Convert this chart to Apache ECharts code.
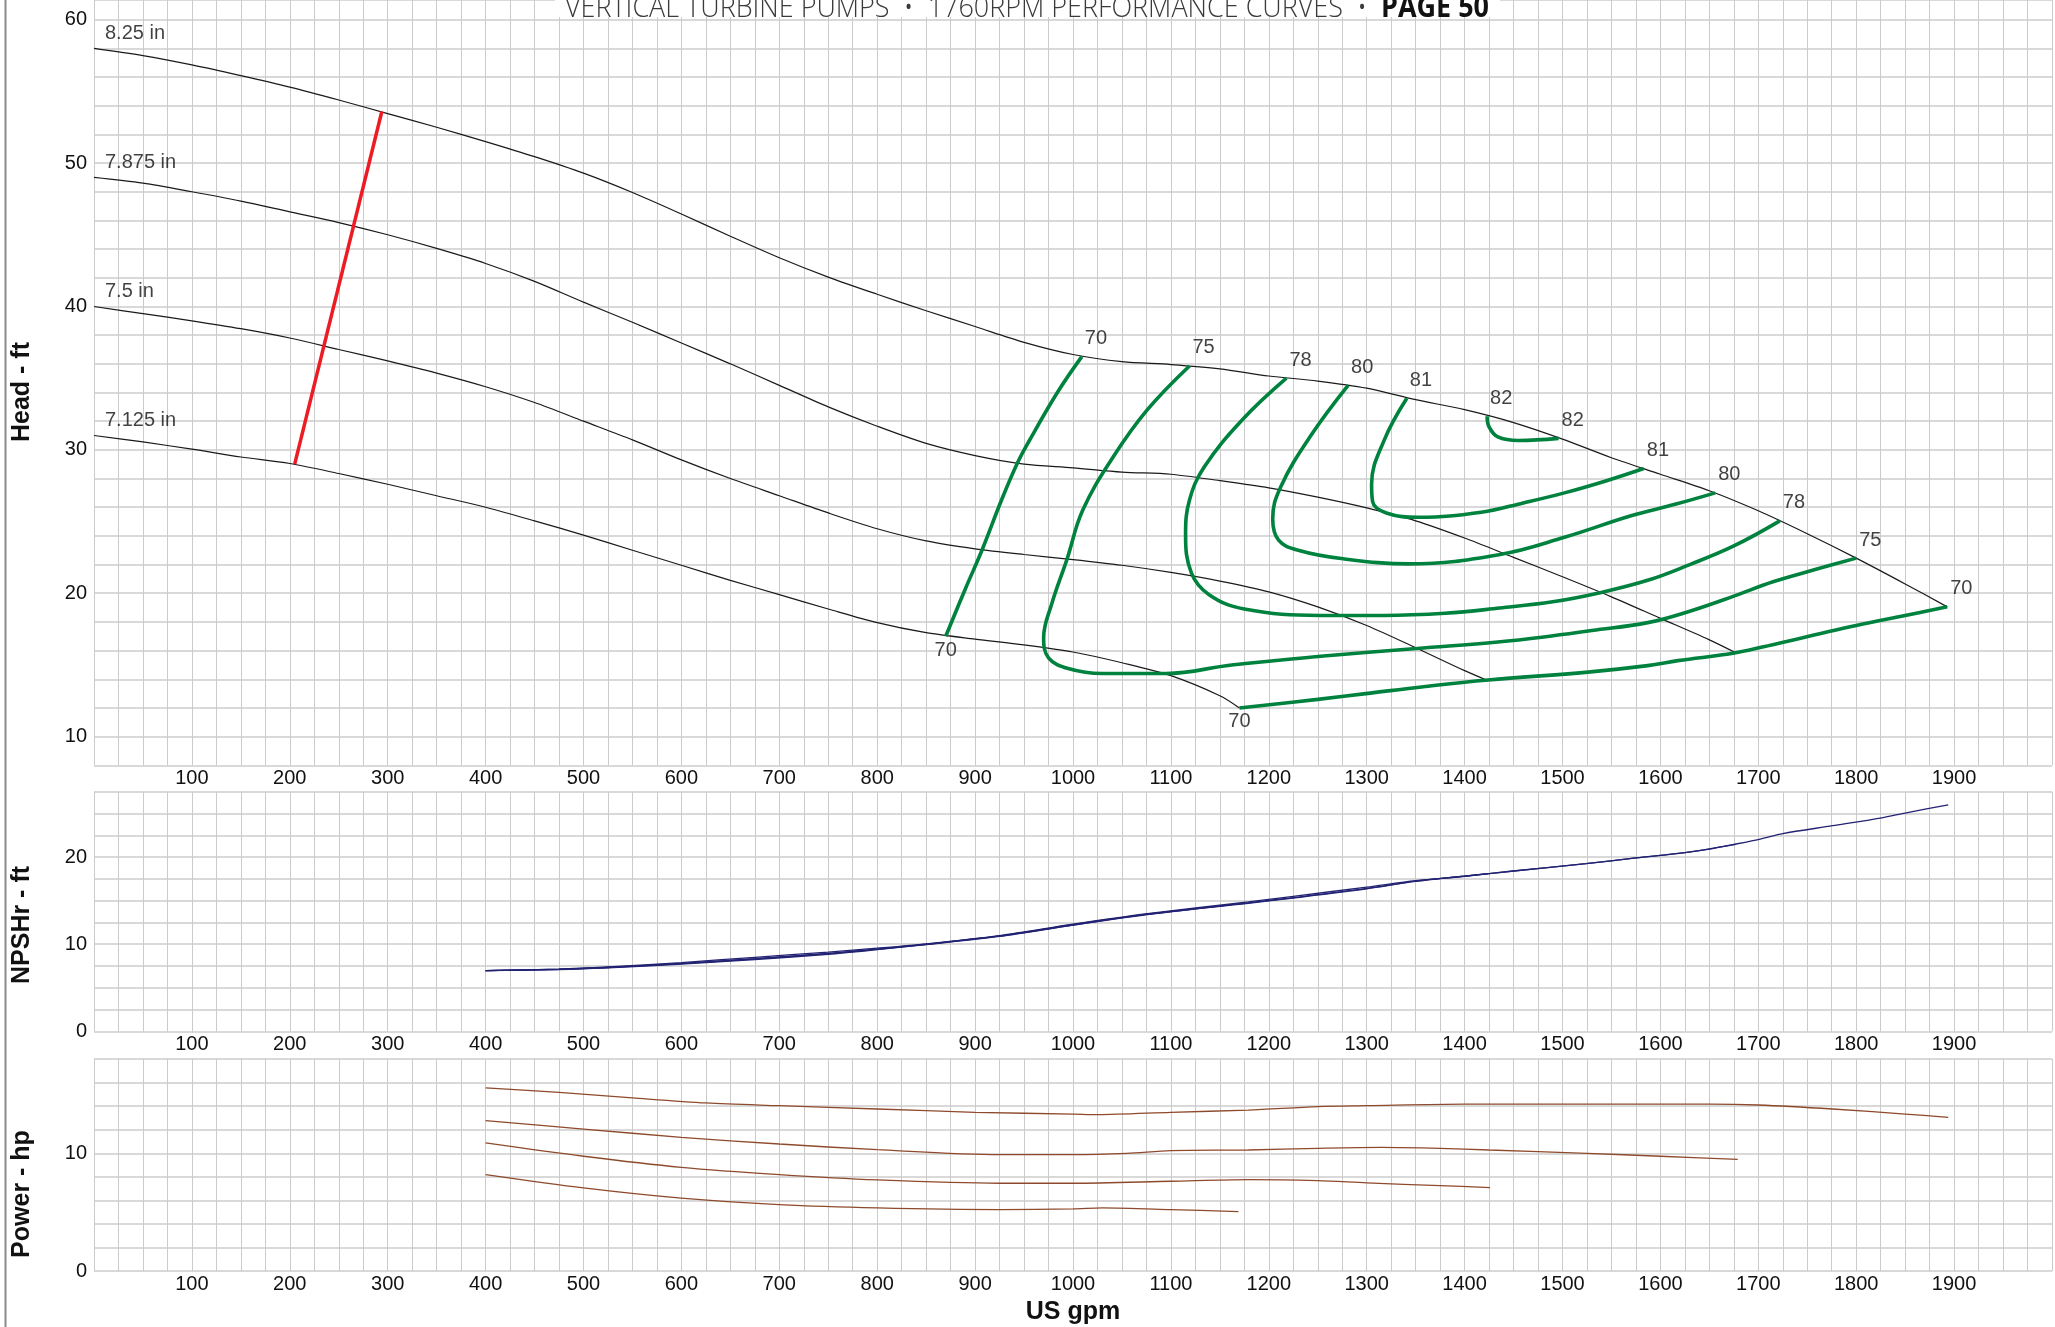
<!DOCTYPE html>
<html>
<head>
<meta charset="utf-8">
<script src="https://cdn.jsdelivr.net/npm/echarts@6/dist/echarts.min.js"></script>
<style>html,body{margin:0;padding:0;background:#fff;}#c{width:2055px;height:1327px;}</style>
</head>
<body>
<div id="c"></div>
<script>
// ---------------- DATA (US gpm, value) ----------------
const gpmTickLabels = [100,200,300,400,500,600,700,800,900,1000,1100,1200,1300,1400,1500,1600,1700,1800,1900];
const headTickLabels = [10,20,30,40,50,60];
const npshTickLabels = [0,10,20];
const powerTickLabels = [0,10];

const diameterNames = ['8.25 in','7.875 in','7.5 in','7.125 in'];

// Head - ft, per impeller diameter
const head825 = [[0,58.0],[50,57.5],[100,56.85],[150,56.1],[200,55.3],[250,54.4],[300,53.45],[350,52.5],[400,51.5],[450,50.45],[500,49.3],[550,47.95],[600,46.45],[650,44.9],[700,43.4],[750,42.05],[800,40.85],[850,39.7],[900,38.6],[950,37.5],[1000,36.65],[1050,36.15],[1100,35.95],[1150,35.65],[1200,35.15],[1250,34.8],[1300,34.3],[1350,33.5],[1400,32.8],[1450,31.9],[1500,30.75],[1550,29.45],[1600,28.3],[1650,27.15],[1700,25.75],[1750,24.15],[1800,22.45],[1850,20.65],[1893,19.05]];
const head7875 = [[0,49.0],[50,48.6],[100,48.0],[150,47.35],[200,46.6],[250,45.85],[300,45.0],[350,44.05],[400,43.0],[450,41.75],[500,40.3],[550,38.9],[600,37.45],[650,36.0],[700,34.5],[750,33.0],[800,31.65],[850,30.45],[900,29.6],[950,29.0],[1000,28.75],[1050,28.45],[1100,28.3],[1150,27.85],[1200,27.35],[1250,26.7],[1300,25.95],[1350,25.05],[1400,23.85],[1450,22.5],[1500,21.15],[1550,19.75],[1600,18.25],[1650,16.75],[1677,15.85]];
const head75 = [[0,40.0],[50,39.5],[100,39.0],[150,38.45],[200,37.8],[250,37.0],[300,36.2],[350,35.35],[400,34.4],[450,33.3],[500,32.0],[550,30.7],[600,29.3],[650,28.0],[700,26.8],[750,25.6],[800,24.5],[850,23.65],[900,23.1],[950,22.7],[1000,22.35],[1050,21.95],[1100,21.45],[1150,20.85],[1200,20.1],[1250,19.05],[1300,17.75],[1350,16.2],[1400,14.6],[1424,13.9]];
const head7125 = [[0,31.0],[50,30.55],[100,30.05],[150,29.5],[200,29.05],[250,28.35],[300,27.6],[350,26.8],[400,26.0],[450,25.05],[500,24.05],[550,23.0],[600,21.95],[650,20.9],[700,19.9],[750,18.9],[800,17.95],[850,17.25],[900,16.8],[950,16.4],[1000,15.9],[1050,15.15],[1100,14.25],[1150,12.85],[1170,12.0]];

// Red line between the smallest and largest diameter
const minFlowLine = [[205,29.0],[294,53.6]];

// Iso-efficiency curves (%): [gpm, head]
const effNames = ['70','70','75','78','80','81','82'];
const eff70a = [[1009,36.5],[985,34.1],[955,30.6],[943,29.05],[927,26.5],[907,23.0],[890,20.3],[870,17.0]];
const eff70b = [[1170,12.0],[1250,12.6],[1299,13.0],[1360,13.5],[1424,13.95],[1526,14.5],[1587,14.95],[1618,15.3],[1677,15.85],[1720,16.5],[1758,17.1],[1800,17.75],[1850,18.45],[1893,19.05]];
const eff75 = [[1119,35.85],[1076,32.8],[1041,29.5],[1010,25.8],[994,22.4],[978,19.2],[970,16.9],[975,15.5],[995,14.75],[1030,14.4],[1095,14.4],[1162,15.0],[1253,15.6],[1351,16.15],[1434,16.6],[1481,16.95],[1530,17.4],[1587,17.95],[1630,18.75],[1675,19.8],[1715,20.8],[1758,21.65],[1800,22.45]];
const eff78 = [[1218,35.0],[1173,32.1],[1134,28.8],[1119,26.5],[1115,24.1],[1121,21.4],[1139,19.9],[1175,18.9],[1252,18.45],[1317,18.45],[1380,18.6],[1436,18.97],[1490,19.4],[1536,20.0],[1587,20.9],[1630,22.0],[1675,23.3],[1722,25.05]];
const eff80 = [[1281,34.5],[1244,31.1],[1212,27.4],[1204,25.2],[1210,23.7],[1230,23.0],[1276,22.4],[1344,22.05],[1436,22.7],[1502,23.9],[1570,25.4],[1615,26.2],[1656,27.0]];
const eff81 = [[1341,33.6],[1318,30.7],[1305,27.6],[1306,26.4],[1320,25.6],[1353,25.3],[1417,25.65],[1460,26.3],[1502,27.0],[1545,27.85],[1583,28.7]];
const eff82 = [[1423,32.35],[1425,31.6],[1434,30.9],[1455,30.65],[1496,30.8]];

// NPSHr - ft, per diameter
const npsh825 = [[400,6.98],[475,7.13],[525,7.35],[600,7.8],[675,8.35],[750,8.95],[800,9.45],[850,10.0],[925,10.95],[1000,12.2],[1076,13.45],[1179,14.75],[1225,15.35],[1300,16.4],[1350,17.25],[1400,17.8],[1450,18.4],[1524,19.25],[1575,19.9],[1625,20.5],[1650,20.9],[1675,21.45],[1703,22.1],[1725,22.7],[1776,23.6],[1826,24.5],[1850,25.05],[1894,26.0]];
const npsh7875 = [[400,6.98],[475,7.15],[525,7.4],[600,7.9],[675,8.5],[750,9.1],[800,9.55],[850,10.05],[925,11.0],[1000,12.3],[1076,13.5],[1179,14.85],[1225,15.5],[1300,16.55],[1350,17.3],[1400,17.8],[1450,18.4],[1524,19.25],[1575,19.9],[1625,20.5],[1677,21.45]];
const npsh75 = [[400,6.98],[475,7.12],[525,7.33],[600,7.78],[675,8.33],[750,8.93],[800,9.42],[850,9.98],[925,10.95],[1000,12.25],[1076,13.45],[1179,14.7],[1225,15.3],[1300,16.35],[1350,17.2],[1424,18.1]];
const npsh7125 = [[400,6.98],[475,7.1],[525,7.3],[600,7.72],[675,8.25],[750,8.85],[800,9.38],[850,9.95],[925,10.9],[1000,12.2],[1076,13.4],[1170,14.65]];

// Power - hp, per diameter
const pow825 = [[400,15.55],[475,15.17],[550,14.7],[625,14.27],[700,14.04],[800,13.76],[900,13.48],[1000,13.33],[1025,13.28],[1100,13.48],[1179,13.67],[1250,13.96],[1300,14.04],[1400,14.18],[1525,14.18],[1650,14.18],[1700,14.1],[1776,13.76],[1850,13.33],[1894,13.05]];
const pow7875 = [[400,12.77],[500,12.06],[600,11.36],[700,10.79],[800,10.31],[925,9.89],[1000,9.89],[1055,10.0],[1100,10.23],[1179,10.28],[1250,10.42],[1315,10.5],[1375,10.42],[1425,10.28],[1525,10.0],[1600,9.75],[1679,9.48]];
const pow75 = [[400,10.88],[500,9.75],[600,8.81],[700,8.19],[800,7.74],[925,7.46],[1000,7.46],[1100,7.63],[1179,7.77],[1250,7.68],[1300,7.49],[1375,7.26],[1426,7.09]];
const pow7125 = [[400,8.19],[500,7.06],[600,6.19],[700,5.65],[800,5.37],[925,5.23],[1000,5.28],[1030,5.37],[1100,5.23],[1169,5.05]];

const titleMain = 'VERTICAL TURBINE PUMPS  \u2022  1760RPM PERFORMANCE CURVES  \u2022  ';
const titleBold = 'PAGE 50';

// ---------------- STYLE / LAYOUT ----------------
const FONT = "'Liberation Sans', Arial, Helvetica, sans-serif";
const TXT = '#111111';
const headCurves = [head825, head7875, head75, head7125];
const effCurves = [eff70a, eff70b, eff75, eff78, eff80, eff81, eff82];
const npshCurves = [npsh825, npsh7875, npsh75, npsh7125];
const powCurves = [pow825, pow7875, pow75, pow7125];
// label placement of the [first, last] end of each efficiency curve
const effEndPlacement = [['top','bottom'],['bottom','top'],['top','top'],['top','top'],['top','top'],['top','top'],['top','top']];

function xAxisFor(gi, name) {
  const ax = {
    type: 'value', gridIndex: gi, min: 0, max: 2000, interval: 25,
    axisLine: {show: false}, axisTick: {show: false},
    axisLabel: {margin: 3, fontSize: 20, fontFamily: FONT, color: TXT,
      formatter: v => gpmTickLabels.indexOf(v) >= 0 ? String(v) : ''},
    splitLine: {show: true, lineStyle: {color: '#cbcbcb', width: 1}}
  };
  if (name) {
    ax.name = name; ax.nameLocation = 'middle'; ax.nameGap = 28;
    ax.nameTextStyle = {fontSize: 25, fontWeight: 'bold', fontFamily: FONT, color: TXT};
  }
  return ax;
}
function yAxisFor(gi, min, max, interval, labels) {
  return {
    type: 'value', gridIndex: gi, min: min, max: max, interval: interval,
    axisLine: {show: false}, axisTick: {show: false},
    axisLabel: {margin: 7, fontSize: 20, fontFamily: FONT, color: TXT,
      formatter: v => labels.indexOf(Math.round(v * 1000) / 1000) >= 0 ? String(Math.round(v)) : ''},
    splitLine: {show: true, lineStyle: {color: '#d9d9d9', width: 2}}
  };
}

const series = [];
headCurves.forEach((c, i) => series.push({
  type: 'line', name: 'head ' + diameterNames[i], xAxisIndex: 0, yAxisIndex: 0, data: c,
  showSymbol: false, smooth: 0.3, lineStyle: {color: '#1a1a1a', width: 1.2}, z: 3, silent: true
}));
series.push({type: 'line', name: 'min flow', xAxisIndex: 0, yAxisIndex: 0, data: minFlowLine,
  showSymbol: false, lineStyle: {color: '#ec1c24', width: 3.5}, z: 4, silent: true});
effCurves.forEach((c, i) => series.push({
  type: 'line', name: 'eff ' + effNames[i], xAxisIndex: 0, yAxisIndex: 0, data: c,
  showSymbol: false, smooth: 0.4, lineStyle: {color: '#00823f', width: 3.6}, z: 5, silent: true
}));
// diameter labels at curve starts
series.push({
  type: 'scatter', xAxisIndex: 0, yAxisIndex: 0, symbolSize: 0, silent: true, z: 6,
  data: headCurves.map((c, i) => ({value: c[0], name: diameterNames[i]})),
  label: {show: true, position: [11, -25], formatter: p => p.name, fontSize: 20, fontFamily: FONT, color: TXT}
});
// efficiency labels at curve ends
const effTop = [], effBottom = [];
effCurves.forEach((c, i) => {
  [c[0], c[c.length - 1]].forEach((pt, k) => {
    (effEndPlacement[i][k] === 'top' ? effTop : effBottom).push({value: pt, name: effNames[i]});
  });
});
series.push({type: 'scatter', xAxisIndex: 0, yAxisIndex: 0, symbolSize: 0, silent: true, z: 6, data: effTop,
  label: {show: true, position: [3, -28], formatter: p => p.name, fontSize: 20, fontFamily: FONT, color: TXT}});
series.push({type: 'scatter', xAxisIndex: 0, yAxisIndex: 0, symbolSize: 0, silent: true, z: 6, data: effBottom,
  label: {show: true, position: 'bottom', distance: 4, formatter: p => p.name, fontSize: 20, fontFamily: FONT, color: TXT}});
npshCurves.forEach((c, i) => series.push({
  type: 'line', name: 'npsh ' + diameterNames[i], xAxisIndex: 1, yAxisIndex: 1, data: c,
  showSymbol: false, smooth: 0.3, lineStyle: {color: '#232374', width: 1.3}, z: 3, silent: true
}));
powCurves.forEach((c, i) => series.push({
  type: 'line', name: 'power ' + diameterNames[i], xAxisIndex: 2, yAxisIndex: 2, data: c,
  showSymbol: false, smooth: 0.3, lineStyle: {color: '#8e4a2c', width: 1.3}, z: 3, silent: true
}));

// title sizing (condensed look)
function tw(t, font) { const ctx = document.createElement('canvas').getContext('2d'); ctx.font = font; return ctx.measureText(t).width; }
const TFS = 30;
const wMain = tw(titleMain, "300 " + TFS + "px 'Open Sans'");
const wBold = tw(titleBold, "bold " + TFS + "px 'Open Sans'");
const titleScale = 924 / (wMain + wBold);

const graphic = [
  {type: 'line', shape: {x1: 5.5, y1: 0, x2: 5.5, y2: 1327}, style: {stroke: '#8a8a8a', lineWidth: 2}, z: 100},
  {type: 'rect', shape: {x: 555, y: 0, width: 945, height: 17}, style: {fill: '#ffffff'}, z: 100},
  {type: 'text', x: 565, y: 8, scaleX: titleScale, z: 101,
    style: {text: '{a|' + titleMain + '}{b|' + titleBold + '}', align: 'left', verticalAlign: 'middle',
      rich: {a: {fontFamily: "'Open Sans'", fontSize: TFS, fontWeight: 300, fill: '#3a3a3a'},
             b: {fontFamily: "'Open Sans'", fontSize: TFS, fontWeight: 'bold', fill: '#111'}}}},
  {type: 'text', x: 22, y: 392, rotation: Math.PI / 2, z: 100,
    style: {text: 'Head - ft', font: "bold 25px 'Liberation Sans', Arial", fill: TXT, align: 'center', verticalAlign: 'middle'}},
  {type: 'text', x: 22, y: 925, rotation: Math.PI / 2, z: 100,
    style: {text: 'NPSHr - ft', font: "bold 25px 'Liberation Sans', Arial", fill: TXT, align: 'center', verticalAlign: 'middle'}},
  {type: 'text', x: 22, y: 1194, rotation: Math.PI / 2, z: 100,
    style: {text: 'Power - hp', font: "bold 25px 'Liberation Sans', Arial", fill: TXT, align: 'center', verticalAlign: 'middle'}}
];

const option = {
  animation: false,
  backgroundColor: '#ffffff',
  grid: [
    {left: 94, width: 1960, top: 0, height: 765.3},
    {left: 94, width: 1960, top: 791.7, height: 239.7},
    {left: 94, width: 1960, top: 1059, height: 212.2}
  ],
  xAxis: [xAxisFor(0), xAxisFor(1), xAxisFor(2, 'US gpm')],
  yAxis: [
    yAxisFor(0, 8, 61.374, 2, headTickLabels),
    yAxisFor(1, 0, 27.5, 2.5, npshTickLabels),
    yAxisFor(2, 0, 18, 2, powerTickLabels)
  ],
  series: series,
  graphic: graphic
};
const chart = echarts.init(document.getElementById('c'), null, {renderer: 'canvas', width: 2055, height: 1327});
chart.setOption(option);
</script>
</body>
</html>
